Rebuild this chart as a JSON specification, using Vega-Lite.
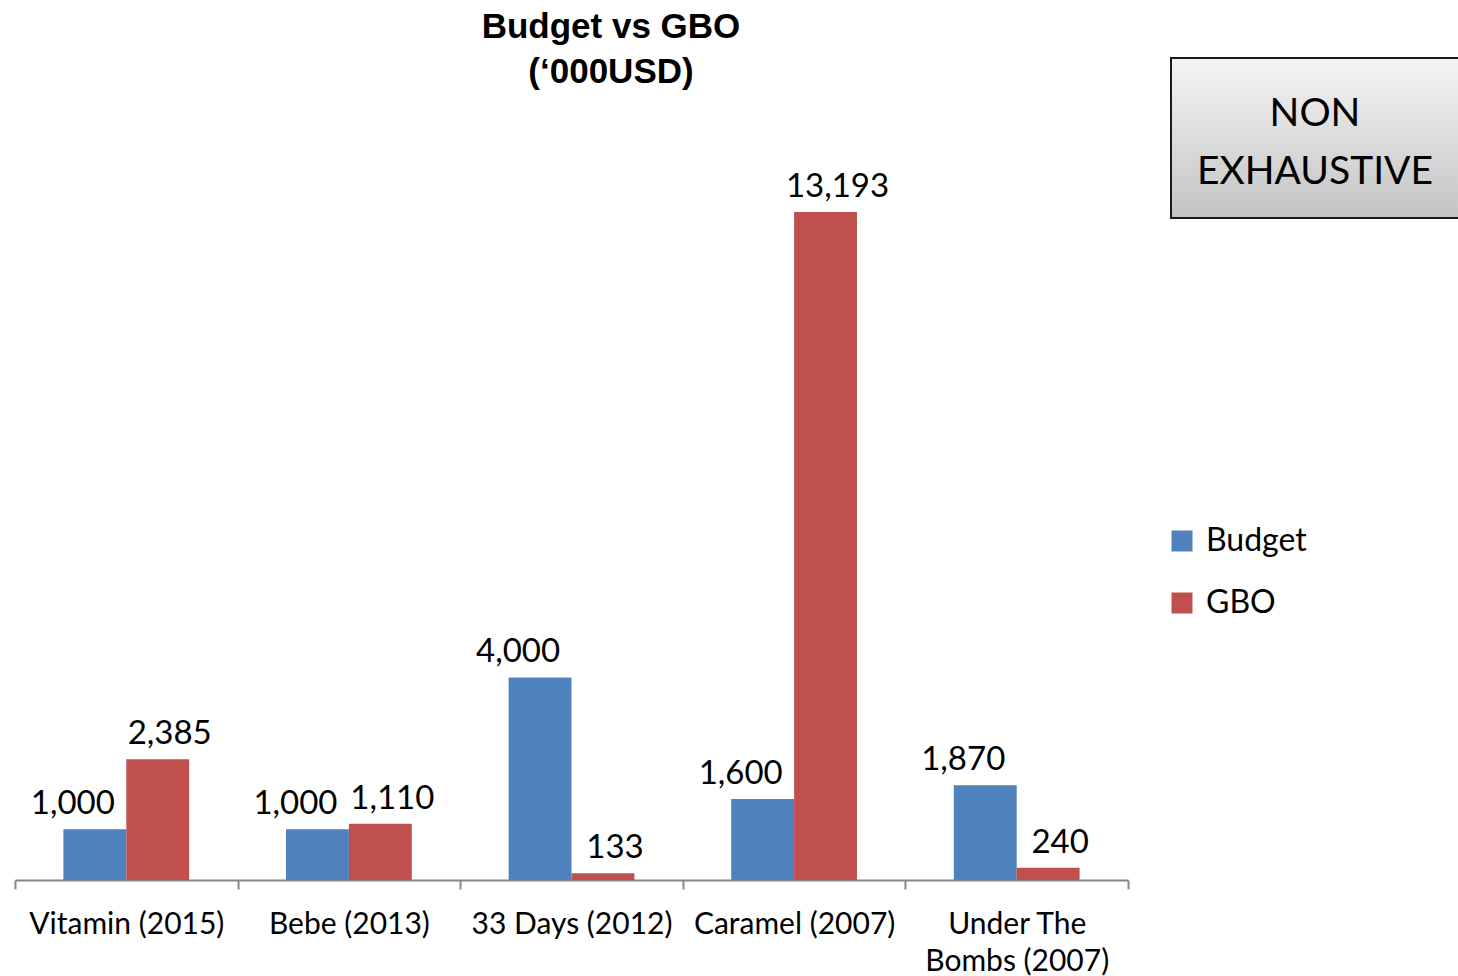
{
  "$schema": "https://vega.github.io/schema/vega-lite/v6.json",
  "padding": {"left": 14, "top": 10, "right": 0, "bottom": 0},
  "title": {
    "text": ["Budget vs GBO", "(‘000USD)"],
    "font": "Liberation Sans",
    "fontSize": 35,
    "fontWeight": "bold",
    "lineHeight": 45,
    "color": "#000000",
    "anchor": "middle",
    "dx": -126,
    "offset": -33
  },
  "bounds": "flush",
  "spacing": 43,
  "resolve": {"scale": {"color": "independent"}, "legend": {"color": "independent"}},
  "config": {"view": {"stroke": null}},
  "hconcat": [
    {
      "width": 1113,
      "height": 822,
      "data": {
        "values": [
          {"film": "Vitamin (2015)", "series": "Budget", "value": 1000},
          {"film": "Vitamin (2015)", "series": "GBO", "value": 2385},
          {"film": "Bebe (2013)", "series": "Budget", "value": 1000},
          {"film": "Bebe (2013)", "series": "GBO", "value": 1110},
          {"film": "33 Days (2012)", "series": "Budget", "value": 4000},
          {"film": "33 Days (2012)", "series": "GBO", "value": 133},
          {"film": "Caramel (2007)", "series": "Budget", "value": 1600},
          {"film": "Caramel (2007)", "series": "GBO", "value": 13193},
          {"film": "Under The Bombs (2007)", "series": "Budget", "value": 1870},
          {"film": "Under The Bombs (2007)", "series": "GBO", "value": 240}
        ]
      },
      "encoding": {
        "x": {
          "field": "film",
          "type": "nominal",
          "sort": null,
          "scale": {"paddingInner": 0, "paddingOuter": 0},
          "axis": {
            "title": null,
            "labelAngle": 0,
            "labelFont": "Lato",
            "labelFontSize": 30,
            "labelColor": "#000000",
            "labelPadding": 20,
            "labelLineHeight": 37,
            "labelLimit": 400,
            "labelExpr": "datum.label == 'Under The Bombs (2007)' ? ['Under The', 'Bombs (2007)'] : datum.label",
            "domainColor": "#868686",
            "domainWidth": 2,
            "tickColor": "#868686",
            "tickWidth": 2,
            "tickSize": 9,
            "tickBand": "extent"
          }
        },
        "xOffset": {
          "field": "series",
          "type": "nominal",
          "sort": ["Budget", "GBO"],
          "scale": {"paddingInner": 0, "paddingOuter": 0.77}
        },
        "y": {
          "field": "value",
          "type": "quantitative",
          "scale": {"domain": [0, 16234], "nice": false},
          "axis": null
        }
      },
      "layer": [
        {
          "mark": {"type": "bar"},
          "encoding": {
            "color": {
              "field": "series",
              "type": "nominal",
              "scale": {"domain": ["Budget", "GBO"], "range": ["#4F81BD", "#C0504D"]},
              "legend": {
                "orient": "none",
                "legendX": 1151,
                "legendY": 467,
                "title": null,
                "symbolType": "square",
                "symbolSize": 441,
                "symbolStrokeWidth": 0,
                "labelFont": "Lato",
                "labelFontSize": 32,
                "labelColor": "#000000",
                "labelOffset": 8,
                "rowPadding": 30
              }
            }
          }
        },
        {
          "transform": [{"filter": "datum.series == 'Budget'"}],
          "mark": {"type": "text", "baseline": "alphabetic", "dy": -15, "dx": -22, "font": "Lato", "fontSize": 33, "color": "#000000"},
          "encoding": {
            "text": {"field": "value", "type": "quantitative", "format": ","}
          }
        },
        {
          "transform": [{"filter": "datum.series == 'GBO'"}],
          "mark": {"type": "text", "baseline": "alphabetic", "dy": -15, "dx": 12, "font": "Lato", "fontSize": 33, "color": "#000000"},
          "encoding": {
            "text": {"field": "value", "type": "quantitative", "format": ","}
          }
        }
      ]
    },
    {
      "width": 288,
      "height": 160,
      "view": {
        "fill": {
          "gradient": "linear",
          "x1": 0, "y1": 0, "x2": 0, "y2": 1,
          "stops": [
            {"offset": 0, "color": "#f4f4f4"},
            {"offset": 1, "color": "#c4c4c4"}
          ]
        },
        "stroke": "#1a1a1a",
        "strokeWidth": 2
      },
      "data": {"values": [{"note": "NON EXHAUSTIVE"}]},
      "mark": {
        "type": "text",
        "lineBreak": " ",
        "font": "Lato",
        "fontSize": 39,
        "lineHeight": 58,
        "baseline": "middle",
        "align": "center",
        "dy": -24,
        "color": "#000000"
      },
      "encoding": {
        "text": {"field": "note", "type": "nominal"}
      }
    }
  ]
}
